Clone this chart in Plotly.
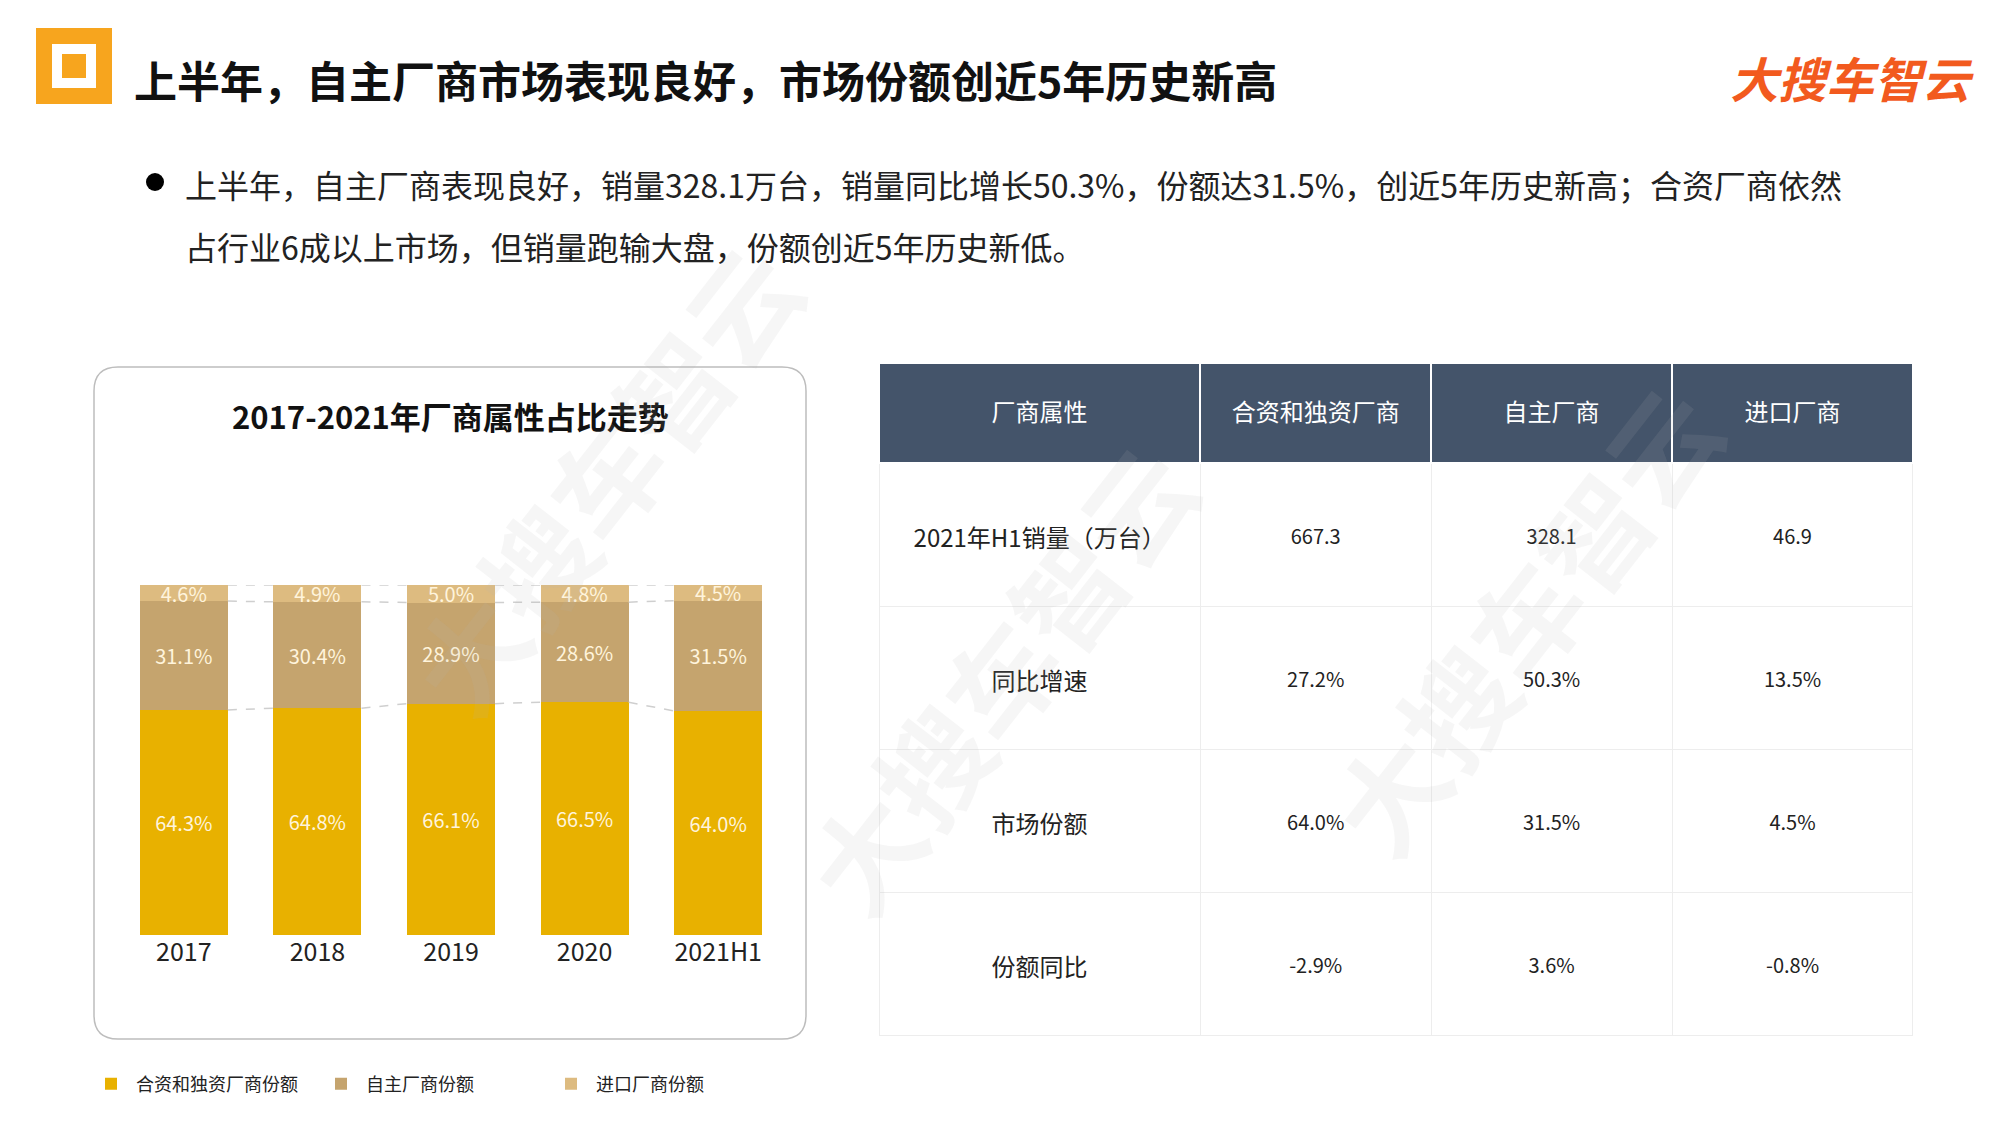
import plotly.graph_objects as go

years = ['2017', '2018', '2019', '2020', '2021H1']
jv_share = [64.3, 64.8, 66.1, 66.5, 64.0]
own_share = [31.1, 30.4, 28.9, 28.6, 31.5]
imp_share = [4.6, 4.9, 5.0, 4.8, 4.5]
series_names = ['合资和独资厂商份额', '自主厂商份额', '进口厂商份额']

table_head = ['厂商属性', '合资和独资厂商', '自主厂商', '进口厂商']
row_names = ['2021年H1销量（万台）', '同比增速', '市场份额', '份额同比']
jv_col = ['667.3', '27.2%', '64.0%', '-2.9%']
own_col = ['328.1', '50.3%', '31.5%', '3.6%']
imp_col = ['46.9', '13.5%', '4.5%', '-0.8%']

FONT = 'Noto Sans CJK SC'
W, H = 2000, 1125
DX, DY = -10, -11
c_jv, c_own, c_imp = '#E8B100', '#C5A46E', '#DDBB80'


def fx(x):
    return (x + DX) / W


def fy(y):
    return 1 - (y + DY) / H


fig = go.Figure()
colors = [c_jv, c_own, c_imp]
for name, vals, col in zip(series_names, [jv_share, own_share, imp_share], colors):
    fig.add_trace(go.Bar(x=list(range(len(years))), y=vals, name=name, marker_color=col,
                         marker_line_width=0, text=['%.1f%%' % v for v in vals],
                         textposition='inside', insidetextanchor='middle', constraintext='none',
                         textfont=dict(family=FONT, size=20, color='#FFF4DC'),
                         xaxis='x', yaxis='y'))

# dashed connectors between bars
bw = 0.33
for i in range(len(years) - 1):
    levels = [(jv_share[i], jv_share[i + 1]),
              (jv_share[i] + own_share[i], jv_share[i + 1] + own_share[i + 1]),
              (100, 100)]
    for y0, y1 in levels:
        fig.add_trace(go.Scatter(x=[i + bw, i + 1 - bw], y=[y0, y1], mode='lines',
                                 line=dict(color='#CFCFCF', width=1.5, dash='dash'),
                                 showlegend=False, hoverinfo='skip'))


def vpad(items, n, size):
    pad = '<span style="font-size:%dpx">&nbsp;</span><br>' % size
    return [pad * n + s for s in items]


fig.add_trace(go.Table(
    domain=dict(x=[fx(881), fx(1915)], y=[fy(1040), fy(366)]),
    columnwidth=[320, 230, 240, 240],
    header=dict(values=vpad(table_head, 1, 16), fill_color='#44546A', height=100,
                line=dict(color='#FFFFFF', width=1.5),
                font=dict(family=FONT, size=24, color='white'), align='center'),
    cells=dict(values=[vpad(row_names, 2, 12), vpad(jv_col, 2, 18),
                       vpad(own_col, 2, 18), vpad(imp_col, 2, 18)],
               fill_color='white', height=143,
               line=dict(color='#EDEDED', width=1),
               font=dict(family=FONT, size=[24, 20, 20, 20], color='#222222'), align='center')))

shapes = []
# chart box with rounded corners
x0, x1, y0, y1, r = fx(96), fx(808), fy(1042), fy(370), 0.012
ry = r * W / H
shapes.append(dict(type='path', xref='paper', yref='paper',
                   path=(f'M {x0 + r},{y1} L {x1 - r},{y1} Q {x1},{y1} {x1},{y1 - ry} '
                         f'L {x1},{y0 + ry} Q {x1},{y0} {x1 - r},{y0} L {x0 + r},{y0} '
                         f'Q {x0},{y0} {x0},{y0 + ry} L {x0},{y1 - ry} Q {x0},{y1} {x0 + r},{y1} Z'),
                   line=dict(color='#BDBDBD', width=1.5)))
# logo top-left
shapes.append(dict(type='rect', xref='paper', yref='paper', x0=fx(38), x1=fx(114),
                   y0=fy(107), y1=fy(31), fillcolor='#F7A51E', line_width=0))
shapes.append(dict(type='rect', xref='paper', yref='paper', x0=fx(54), x1=fx(98),
                   y0=fy(91), y1=fy(47), fillcolor='white', line_width=0))
shapes.append(dict(type='rect', xref='paper', yref='paper', x0=fx(64), x1=fx(88),
                   y0=fy(81), y1=fy(57), fillcolor='#F7A51E', line_width=0))
# bullet
shapes.append(dict(type='circle', xref='paper', yref='paper', x0=fx(148), x1=fx(166),
                   y0=fy(194), y1=fy(176), fillcolor='black', line_width=0))

ann = []
ann.append(dict(x=fx(134), y=fy(82), text='<b>上半年，自主厂商市场表现良好，市场份额创近5年历史新高</b>',
                xanchor='left', yanchor='middle', font=dict(family=FONT, size=43, color='#111')))
ann.append(dict(x=fx(1978), y=fy(80), text='<b><i>大搜车智云</i></b>', xanchor='right', yanchor='middle',
                font=dict(family=FONT, size=48, color='#F25A1E')))
ann.append(dict(x=fx(185), y=fy(187), text='上半年，自主厂商表现良好，销量328.1万台，销量同比增长50.3%，份额达31.5%，创近5年历史新高；合资厂商依然',
                xanchor='left', yanchor='middle', font=dict(family=FONT, size=32, color='#222')))
ann.append(dict(x=fx(185), y=fy(249), text='占行业6成以上市场，但销量跑输大盘，份额创近5年历史新低。',
                xanchor='left', yanchor='middle', font=dict(family=FONT, size=32, color='#222')))
ann.append(dict(x=fx(452), y=fy(418), text='<b>2017-2021年厂商属性占比走势</b>', xanchor='center', yanchor='middle',
                font=dict(family=FONT, size=31, color='#111')))
for wx, wy in [(370, 480), (1000, 680), (1760, 890)]:
    ann.append(dict(x=fx(wx), y=fy(wy), text='<b>大搜车智云</b>', textangle=-52,
                    font=dict(family=FONT, size=110, color='rgba(180,180,180,0.12)')))
for a in ann:
    a.update(xref='paper', yref='paper', showarrow=False)

fig.update_layout(
    width=W, height=H, margin=dict(l=0, r=0, t=0, b=0),
    paper_bgcolor='white', plot_bgcolor='rgba(0,0,0,0)',
    barmode='stack', bargap=0.34,
    uniformtext=dict(minsize=20, mode='show'),
    xaxis=dict(domain=[fx(119), fx(787)], range=[-0.5, 4.5], tickvals=list(range(5)),
               ticktext=years, showgrid=False, zeroline=False, showline=False,
               tickfont=dict(family=FONT, size=25, color='#222'), ticks=''),
    yaxis=dict(domain=[fy(938), fy(588)], range=[0, 100], visible=False),
    showlegend=True,
    legend=dict(orientation='h', x=fx(88), y=fy(1087), yanchor='middle', xanchor='left',
                font=dict(family=FONT, size=18, color='#222'), traceorder='normal',
                itemwidth=40, entrywidth=175, entrywidthmode='pixels'),
    shapes=shapes, annotations=ann,
)
fig.update_traces(selector=dict(type='bar'), width=0.66)

fig.write_html('out.html')
